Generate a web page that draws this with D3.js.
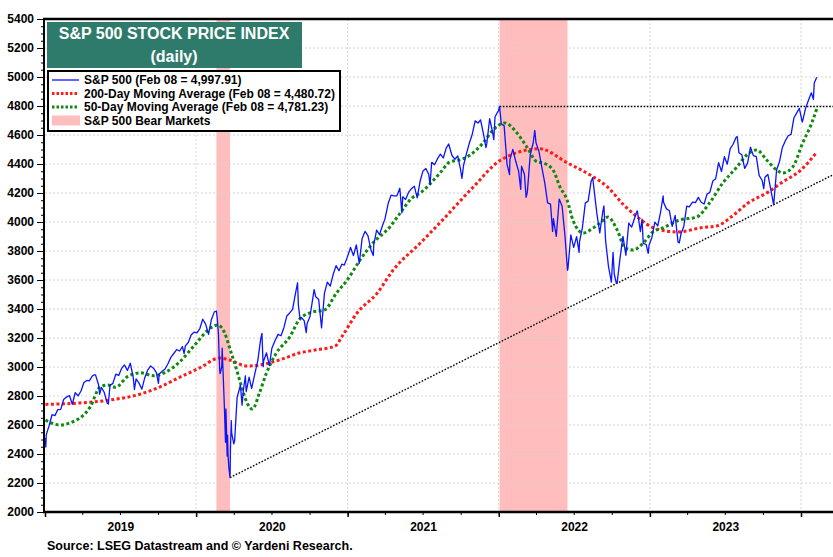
<!DOCTYPE html>
<html><head><meta charset="utf-8">
<script src="https://cdn.jsdelivr.net/npm/d3@7"></script>
<style>
html,body{margin:0;padding:0;background:#fff;}
svg{display:block;font-family:"Liberation Sans",Arial,sans-serif;}
</style></head>
<body>
<svg id="chart" width="833" height="557"></svg>
<script>
// ---------------- DATA ----------------
const yTicks = [2000,2200,2400,2600,2800,3000,3200,3400,3600,3800,4000,4200,4400,4600,4800,5000,5200,5400];
const yearLabels = ["2019","2020","2021","2022","2023"];
const bearMarkets = [["2020-02-19","2020-03-23"],["2022-01-03","2022-06-16"]];
const priorHigh = [["2022-01-03",4796.56]];
const supportLine = [["2020-03-23",2237.40],["2024-03-18",4325]];
const legendLabels = ["S&P 500 (Feb 08 = 4,997.91)","200-Day Moving Average (Feb 08 = 4,480.72)","50-Day Moving Average (Feb 08 = 4,781.23)","S&P 500 Bear Markets"];

const spx = [
["2019-01-02",2510.03],["2019-01-03",2447.89],["2019-01-04",2531.94],["2019-01-11",2596.26],["2019-01-18",2670.71],["2019-01-25",2664.76],["2019-02-01",2706.53],["2019-02-08",2707.88],["2019-02-15",2775.60],["2019-02-22",2792.67],["2019-03-01",2803.69],["2019-03-08",2743.07],["2019-03-15",2822.48],["2019-03-22",2800.71],["2019-03-29",2834.40],["2019-04-05",2892.74],["2019-04-12",2907.41],["2019-04-18",2905.03],["2019-04-26",2939.88],["2019-04-30",2945.83],["2019-05-03",2945.64],["2019-05-10",2881.40],["2019-05-13",2811.87],["2019-05-17",2859.53],["2019-05-24",2826.06],["2019-05-31",2752.06],["2019-06-03",2744.45],["2019-06-07",2873.34],["2019-06-14",2886.98],["2019-06-21",2950.46],["2019-06-28",2941.76],["2019-07-05",2990.41],["2019-07-12",3013.77],["2019-07-19",2976.61],["2019-07-26",3025.86],["2019-08-02",2932.05],["2019-08-05",2844.74],["2019-08-09",2918.65],["2019-08-16",2888.68],["2019-08-23",2847.11],["2019-08-30",2926.46],["2019-09-06",2978.71],["2019-09-13",3007.39],["2019-09-20",2992.07],["2019-09-27",2961.79],["2019-10-02",2887.61],["2019-10-04",2952.01],["2019-10-11",2970.27],["2019-10-18",2986.20],["2019-10-25",3022.55],["2019-11-01",3066.91],["2019-11-08",3093.08],["2019-11-15",3120.46],["2019-11-22",3110.29],["2019-11-29",3140.98],["2019-12-03",3093.20],["2019-12-06",3145.91],["2019-12-13",3168.80],["2019-12-20",3221.22],["2019-12-27",3240.02],
["2020-01-03",3234.85],["2020-01-10",3265.35],["2020-01-17",3329.62],["2020-01-24",3295.47],["2020-01-31",3225.52],["2020-02-07",3327.71],["2020-02-14",3380.16],["2020-02-19",3386.15],["2020-02-21",3337.75],["2020-02-24",3225.89],["2020-02-25",3128.21],["2020-02-27",2978.76],["2020-02-28",2954.22],["2020-03-03",3003.37],["2020-03-04",3130.12],["2020-03-06",2972.37],["2020-03-09",2746.56],["2020-03-12",2480.64],["2020-03-13",2711.02],["2020-03-16",2386.13],["2020-03-17",2529.19],["2020-03-18",2398.10],["2020-03-20",2304.92],["2020-03-23",2237.40],["2020-03-24",2447.33],["2020-03-26",2630.07],["2020-03-27",2541.47],["2020-04-01",2470.50],["2020-04-03",2488.65],["2020-04-09",2789.82],["2020-04-17",2874.56],["2020-04-21",2736.56],["2020-04-24",2836.74],["2020-04-29",2939.51],["2020-05-01",2830.71],["2020-05-08",2929.80],["2020-05-14",2852.50],["2020-05-15",2863.70],["2020-05-22",2955.45],["2020-05-29",3044.31],["2020-06-05",3193.93],["2020-06-08",3232.39],["2020-06-11",3002.10],["2020-06-12",3041.31],["2020-06-19",3097.74],["2020-06-26",3009.05],["2020-07-02",3130.01],["2020-07-10",3185.04],["2020-07-17",3224.73],["2020-07-24",3215.63],["2020-07-31",3271.12],["2020-08-07",3351.28],["2020-08-14",3372.85],["2020-08-21",3397.16],["2020-08-28",3508.01],["2020-09-02",3580.84],["2020-09-04",3426.96],["2020-09-08",3331.84],["2020-09-11",3340.97],["2020-09-18",3319.47],["2020-09-23",3236.92],["2020-09-25",3298.46],["2020-10-02",3348.44],["2020-10-09",3477.13],["2020-10-12",3534.22],["2020-10-16",3483.81],["2020-10-23",3465.39],["2020-10-30",3269.96],["2020-11-06",3509.44],["2020-11-13",3585.15],["2020-11-20",3557.54],["2020-11-27",3638.35],["2020-12-04",3699.12],["2020-12-11",3663.46],["2020-12-18",3709.41],["2020-12-24",3703.06],["2020-12-31",3756.07],
["2021-01-08",3824.68],["2021-01-15",3768.25],["2021-01-22",3841.47],["2021-01-27",3750.77],["2021-01-29",3714.24],["2021-02-05",3886.83],["2021-02-12",3934.83],["2021-02-19",3906.71],["2021-02-26",3811.15],["2021-03-04",3768.47],["2021-03-05",3841.94],["2021-03-12",3943.34],["2021-03-19",3913.10],["2021-03-26",3974.54],["2021-04-01",4019.87],["2021-04-09",4128.80],["2021-04-16",4185.47],["2021-04-23",4180.17],["2021-04-30",4181.17],["2021-05-07",4232.60],["2021-05-12",4063.04],["2021-05-14",4173.85],["2021-05-21",4155.86],["2021-05-28",4204.11],["2021-06-04",4229.89],["2021-06-11",4247.44],["2021-06-18",4166.45],["2021-06-25",4280.70],["2021-07-02",4352.34],["2021-07-09",4369.55],["2021-07-16",4327.16],["2021-07-19",4258.49],["2021-07-23",4411.79],["2021-07-30",4395.26],["2021-08-06",4436.52],["2021-08-13",4468.00],["2021-08-20",4441.67],["2021-08-27",4509.37],["2021-09-02",4537.95],["2021-09-10",4458.58],["2021-09-17",4432.99],["2021-09-24",4455.48],["2021-10-01",4357.04],["2021-10-04",4300.46],["2021-10-08",4391.34],["2021-10-15",4471.37],["2021-10-22",4544.90],["2021-10-29",4605.38],["2021-11-05",4697.53],["2021-11-12",4682.85],["2021-11-18",4704.54],["2021-11-26",4594.62],["2021-12-01",4513.04],["2021-12-03",4538.43],["2021-12-10",4712.02],["2021-12-17",4620.64],["2021-12-20",4568.02],["2021-12-23",4725.79],["2021-12-31",4766.18],
["2022-01-03",4796.56],["2022-01-07",4677.03],["2022-01-14",4662.85],["2022-01-21",4397.94],["2022-01-27",4326.51],["2022-01-28",4431.85],["2022-02-04",4500.53],["2022-02-11",4418.64],["2022-02-18",4348.87],["2022-02-23",4225.50],["2022-02-25",4384.65],["2022-03-04",4328.87],["2022-03-08",4170.70],["2022-03-11",4204.31],["2022-03-18",4463.12],["2022-03-25",4543.06],["2022-03-29",4631.60],["2022-04-01",4545.86],["2022-04-08",4488.28],["2022-04-14",4392.59],["2022-04-22",4271.78],["2022-04-29",4131.93],["2022-05-06",4123.34],["2022-05-11",3935.18],["2022-05-13",4023.89],["2022-05-20",3901.36],["2022-05-27",4158.24],["2022-06-03",4108.54],["2022-06-10",3900.86],["2022-06-16",3666.77],["2022-06-17",3674.84],["2022-06-24",3911.74],["2022-07-01",3825.33],["2022-07-08",3899.38],["2022-07-14",3790.38],["2022-07-15",3863.16],["2022-07-22",3961.63],["2022-07-29",4130.29],["2022-08-05",4145.19],["2022-08-12",4280.15],["2022-08-16",4305.20],["2022-08-19",4228.48],["2022-08-26",4057.66],["2022-09-02",3924.26],["2022-09-09",4067.36],["2022-09-12",4110.41],["2022-09-16",3873.33],["2022-09-23",3693.23],["2022-09-30",3585.62],["2022-10-04",3790.93],["2022-10-07",3639.66],["2022-10-12",3577.03],["2022-10-14",3583.07],["2022-10-21",3752.75],["2022-10-28",3901.06],["2022-11-04",3770.55],["2022-11-11",3992.93],["2022-11-18",3965.34],["2022-11-25",4026.12],["2022-12-01",4076.57],["2022-12-02",4071.70],["2022-12-09",3934.38],["2022-12-13",4019.65],["2022-12-16",3852.36],["2022-12-23",3844.82],["2022-12-28",3783.22],["2022-12-30",3839.50],
["2023-01-06",3895.08],["2023-01-13",3999.09],["2023-01-20",3972.61],["2023-01-27",4070.56],["2023-02-02",4179.76],["2023-02-03",4136.48],["2023-02-10",4090.46],["2023-02-17",4079.09],["2023-02-24",3970.04],["2023-03-03",4045.64],["2023-03-10",3861.59],["2023-03-13",3855.76],["2023-03-17",3916.64],["2023-03-24",3970.99],["2023-03-31",4109.31],["2023-04-06",4105.02],["2023-04-14",4137.64],["2023-04-21",4133.52],["2023-04-28",4169.48],["2023-05-05",4136.25],["2023-05-12",4124.08],["2023-05-19",4191.98],["2023-05-26",4205.45],["2023-06-02",4282.37],["2023-06-09",4298.86],["2023-06-16",4409.59],["2023-06-23",4348.33],["2023-06-30",4450.38],["2023-07-07",4398.95],["2023-07-14",4505.42],["2023-07-21",4536.34],["2023-07-28",4582.23],["2023-07-31",4588.96],["2023-08-04",4478.03],["2023-08-11",4464.05],["2023-08-18",4369.71],["2023-08-25",4405.71],["2023-09-01",4515.77],["2023-09-08",4457.49],["2023-09-15",4450.32],["2023-09-22",4320.06],["2023-09-29",4288.05],["2023-10-03",4229.45],["2023-10-06",4308.50],["2023-10-13",4327.78],["2023-10-20",4224.16],["2023-10-27",4117.37],["2023-11-03",4358.34],["2023-11-10",4415.24],["2023-11-17",4514.02],["2023-11-24",4559.34],["2023-12-01",4594.63],["2023-12-08",4604.37],["2023-12-15",4719.19],["2023-12-22",4754.63],["2023-12-28",4783.35],["2023-12-29",4769.83],
["2024-01-04",4688.68],["2024-01-05",4697.24],["2024-01-12",4783.83],["2024-01-19",4839.81],["2024-01-26",4890.97],["2024-01-31",4845.65],["2024-02-02",4958.61],["2024-02-08",4997.91]
];

const ma200 = [
["2019-01-02",2742],["2019-03-26",2752],["2019-06-06",2772],["2019-08-18",2812],["2019-10-05",2862],["2019-11-23",2930],["2020-01-09",2993],["2020-02-27",3062],["2020-03-22",3048],["2020-05-02",3007],["2020-06-03",3014],["2020-07-22",3050],["2020-09-08",3098],["2020-10-10",3115],["2020-12-02",3145],["2020-12-18",3209],["2021-01-23",3370],["2021-03-13",3508],["2021-04-21",3669],["2021-06-25",3853],["2021-08-13",3998],["2021-11-01",4243],["2022-01-06",4428],["2022-04-10",4505],["2022-06-16",4407],["2022-08-10",4324],["2022-09-21",4241],["2022-10-30",4117],["2022-12-02",4034],["2023-01-10",3959],["2023-03-09",3931],["2023-05-04",3960],["2023-06-14",3975],["2023-07-16",4034],["2023-08-26",4131],["2023-10-14",4207],["2023-11-14",4269],["2024-01-01",4359],["2024-02-08",4480.72]
];

const ma50 = [
["2019-01-02",2634],["2019-02-06",2600],["2019-03-02",2614],["2019-04-20",2724],["2019-05-14",2862],["2019-06-02",2876],["2019-06-20",2860],["2019-07-20",2935],["2019-08-20",2960],["2019-09-20",2940],["2019-10-20",2965],["2019-11-23",3037],["2019-12-25",3140],["2020-02-10",3278],["2020-02-22",3290],["2020-03-10",3234],["2020-03-22",3131],["2020-04-08",2979],["2020-04-20",2862],["2020-05-02",2759],["2020-05-16",2710],["2020-06-02",2821],["2020-06-19",2959],["2020-07-13",3097],["2020-08-14",3207],["2020-09-07",3330],["2020-10-08",3379],["2020-11-06",3393],["2020-12-05",3510],["2020-12-31",3600],["2021-01-31",3738],["2021-03-03",3855],["2021-04-13",3966],["2021-05-08",4062],["2021-06-08",4172],["2021-06-25",4200],["2021-08-12",4338],["2021-09-05",4414],["2021-09-29",4428],["2021-10-24",4462],["2021-11-24",4545],["2021-12-18",4634],["2022-01-16",4683],["2022-02-14",4614],["2022-03-10",4517],["2022-04-04",4414],["2022-04-18",4407],["2022-05-12",4359],["2022-05-29",4241],["2022-06-15",4152],["2022-06-29",4014],["2022-07-24",3924],["2022-08-17",3959],["2022-09-03",3993],["2022-09-22",4034],["2022-10-14",3945],["2022-11-02",3821],["2022-11-21",3807],["2022-12-16",3855],["2023-01-08",3931],["2023-02-01",3959],["2023-03-14",4014],["2023-04-24",4034],["2023-05-25",4131],["2023-06-26",4269],["2023-07-30",4379],["2023-08-23",4462],["2023-09-16",4497],["2023-10-10",4428],["2023-11-03",4359],["2023-11-18",4338],["2023-12-12",4379],["2024-01-05",4545],["2024-01-27",4683],["2024-02-08",4781.23]
];

// ---------------- CHART ----------------
const parse = d3.utcParse("%Y-%m-%d");
const svg = d3.select("#chart");
const L = 45, R = 833, T = 19, B = 512;
const FONT = "'Liberation Sans',Arial,sans-serif";

// x: year boundaries at fixed spacing, right edge continues past Jan 2024
const xBase = d3.scaleUtc().domain([parse("2019-01-01"), parse("2024-01-01")]).range([L, 801]);
const x = d3.scaleUtc().domain([xBase.domain()[0], xBase.invert(R)]).range([L, R]);
const y = d3.scaleLinear().domain([2000, 5400]).range([B, T]);

svg.append("defs").append("clipPath").attr("id","plotclip")
  .append("rect").attr("x",L).attr("y",T).attr("width",R-L).attr("height",B-T);

const plot = svg.append("g").attr("clip-path","url(#plotclip)");

// bear market shading
plot.selectAll("rect.bear").data(bearMarkets).join("rect").attr("class","bear")
  .attr("x", d => x(parse(d[0])))
  .attr("width", d => x(parse(d[1])) - x(parse(d[0])))
  .attr("y", T).attr("height", B - T)
  .attr("fill", "#ffbdbd");

// grid
plot.selectAll("line.hg").data(yTicks.slice(1, -1)).join("line").attr("class","hg")
  .attr("x1", L).attr("x2", R).attr("y1", d => y(d)).attr("y2", d => y(d))
  .attr("stroke", "#d4d4d4").attr("stroke-width", 1).attr("stroke-dasharray", "2,2");
const yearStarts = d3.utcYear.range(parse("2020-01-01"), x.domain()[1]);
plot.selectAll("line.vg").data(yearStarts).join("line").attr("class","vg")
  .attr("y1", T).attr("y2", B).attr("x1", d => x(d)).attr("x2", d => x(d))
  .attr("stroke", "#d4d4d4").attr("stroke-width", 1).attr("stroke-dasharray", "2,2");

// reference lines
plot.append("line")
  .attr("x1", x(parse(priorHigh[0][0]))).attr("x2", R)
  .attr("y1", y(priorHigh[0][1])).attr("y2", y(priorHigh[0][1]))
  .attr("stroke", "#000").attr("stroke-width", 1.4).attr("stroke-dasharray", "1.6,1.6");
plot.append("path")
  .datum(supportLine)
  .attr("d", d3.line().x(d => x(parse(d[0]))).y(d => y(d[1])))
  .attr("fill","none").attr("stroke", "#000").attr("stroke-width", 1.4).attr("stroke-dasharray", "1.6,1.6");

// moving averages
const maLine = d3.line().x(d => x(parse(d[0]))).y(d => y(d[1])).curve(d3.curveMonotoneX);
plot.append("path").datum(ma200).attr("d", maLine)
  .attr("fill","none").attr("stroke","#ff1a1a").attr("stroke-width",3).attr("stroke-dasharray","3,2.5");
plot.append("path").datum(ma50).attr("d", maLine)
  .attr("fill","none").attr("stroke","#0f8a0f").attr("stroke-width",3).attr("stroke-dasharray","3,2.5");

// S&P 500
plot.append("path").datum(spx)
  .attr("d", d3.line().x(d => x(parse(d[0]))).y(d => y(d[1])))
  .attr("fill","none").attr("stroke","#0a14ff").attr("stroke-width",1.3).attr("stroke-linejoin","round");

// Y axis
const yMinor = d3.range(2000, 5401, 50);
svg.append("g").attr("transform", `translate(${L-1},0)`)
  .call(d3.axisLeft(y).tickValues(yMinor).tickSize(3).tickFormat(""))
  .call(g => g.select(".domain").remove())
  .call(g => g.selectAll("line").attr("stroke","#000"));
svg.append("g").attr("transform", `translate(${L-1},0)`)
  .call(d3.axisLeft(y).tickValues(yTicks).tickSize(7).tickPadding(3).tickFormat(d3.format("d")))
  .call(g => g.select(".domain").remove())
  .call(g => g.selectAll("line").attr("stroke","#000"))
  .call(g => g.selectAll("text").attr("font-size", 12).attr("font-weight","bold")
    .attr("fill","#000").attr("font-family",FONT));
svg.append("line").attr("x1", L-1).attr("x2", L-1).attr("y1", T-1).attr("y2", B+1)
  .attr("stroke","#000").attr("stroke-width",2);

// X axis
const quarters = d3.utcMonth.every(3).range(x.domain()[0], x.domain()[1]);
svg.append("g").attr("transform", `translate(0,${B})`)
  .call(d3.axisBottom(x).tickValues(quarters).tickSize(3).tickFormat(""))
  .call(g => g.select(".domain").remove())
  .call(g => g.selectAll("line").attr("stroke","#000"));
const years = d3.utcYear.range(x.domain()[0], x.domain()[1]);
svg.append("g").attr("transform", `translate(0,${B})`)
  .call(d3.axisBottom(x).tickValues(years).tickSize(5).tickFormat(""))
  .call(g => g.select(".domain").remove())
  .call(g => g.selectAll("line").attr("stroke","#000").attr("stroke-width",1.5));
const mids = yearLabels.map(s => parse(s + "-07-02"));
svg.append("g").attr("transform", `translate(0,${B})`)
  .call(d3.axisBottom(x).tickValues(mids).tickSize(0).tickPadding(10).tickFormat((d,i) => yearLabels[i]))
  .call(g => g.select(".domain").remove())
  .call(g => g.selectAll("text").attr("font-size", 12).attr("font-weight","bold")
    .attr("fill","#000").attr("font-family",FONT));
svg.append("line").attr("x1", L-2).attr("x2", R).attr("y1", B).attr("y2", B)
  .attr("stroke","#000").attr("stroke-width",2.5);
svg.append("line").attr("x1", L-2).attr("x2", R).attr("y1", T).attr("y2", T)
  .attr("stroke","#000").attr("stroke-width",2.5);

// Title box
svg.append("rect").attr("x",47).attr("y",22).attr("width",255).attr("height",46).attr("fill","#2e7b6c");
svg.append("text").attr("x",174).attr("y",39).attr("text-anchor","middle")
  .attr("fill","#fff").attr("font-size",16).attr("font-weight","bold").text("S&P 500 STOCK PRICE INDEX");
svg.append("text").attr("x",174).attr("y",62).attr("text-anchor","middle")
  .attr("fill","#fff").attr("font-size",16).attr("font-weight","bold").text("(daily)");

// Legend
const lg = svg.append("g");
lg.append("rect").attr("x",48).attr("y",71).attr("width",292).attr("height",60)
  .attr("fill","#fff").attr("stroke","#000").attr("stroke-width",2);
const rowY = [80, 93.5, 107, 120.5];
lg.append("line").attr("x1",52).attr("x2",79).attr("y1",rowY[0]).attr("y2",rowY[0]).attr("stroke","#0a14ff").attr("stroke-width",1.3);
lg.append("line").attr("x1",52).attr("x2",79).attr("y1",rowY[1]).attr("y2",rowY[1]).attr("stroke","#ff1a1a").attr("stroke-width",3).attr("stroke-dasharray","2.5,2");
lg.append("line").attr("x1",52).attr("x2",79).attr("y1",rowY[2]).attr("y2",rowY[2]).attr("stroke","#0f8a0f").attr("stroke-width",3).attr("stroke-dasharray","2.5,2");
lg.append("rect").attr("x",52).attr("y",rowY[3]-5).attr("width",28).attr("height",10).attr("fill","#ffbdbd");
lg.selectAll("text").data(legendLabels).join("text")
  .attr("x",84).attr("y",(d,i) => rowY[i] + 4.3)
  .attr("font-size",12).attr("font-weight","bold").attr("fill","#000").text(d => d);

// Source
svg.append("text").attr("x",47).attr("y",550).attr("font-size",12.5).attr("font-weight","bold")
  .attr("fill","#000").text("Source: LSEG Datastream and \u00A9 Yardeni Research.");
</script>
</body></html>
